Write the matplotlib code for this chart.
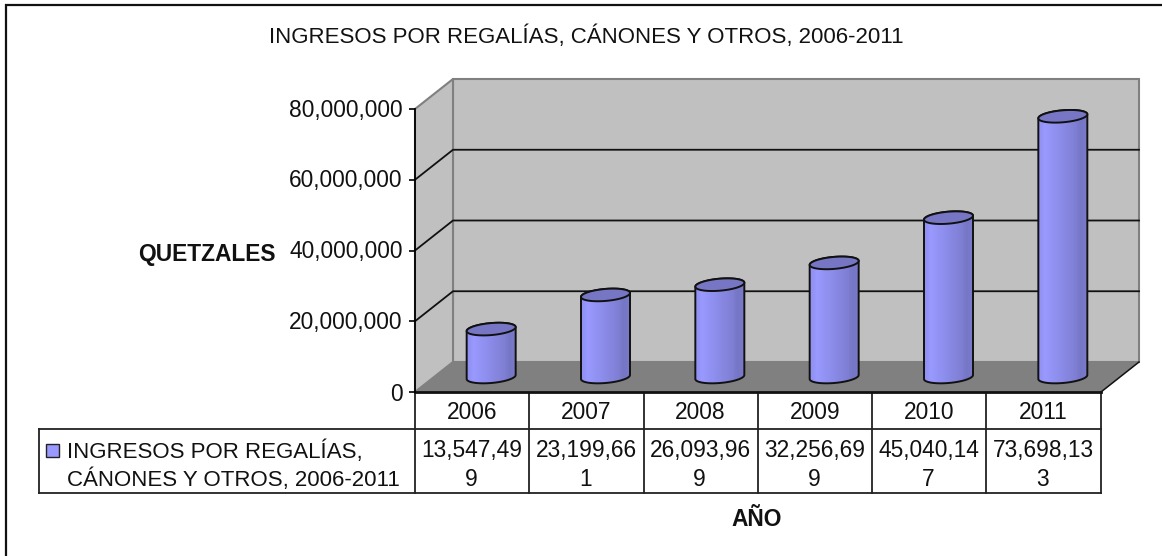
import numpy as np
import matplotlib
matplotlib.use("Agg")
import matplotlib.pyplot as plt
from matplotlib.colors import LinearSegmentedColormap
from matplotlib.patches import Polygon, Rectangle
from matplotlib.ticker import FuncFormatter
from matplotlib.transforms import ScaledTranslation

plt.rcParams['font.family'] = ['Liberation Sans', 'DejaVu Sans']

# data
years = ["2006", "2007", "2008", "2009", "2010", "2011"]
ingresos = [13547499, 23199661, 26093969, 32256699, 45040147, 73698133]
y_ticks = [0, 20000000, 40000000, 60000000, 80000000]
title = "INGRESOS POR REGALÍAS, CÁNONES Y OTROS, 2006-2011"
serie = "INGRESOS POR REGALÍAS,\nCÁNONES Y OTROS, 2006-2011"

W, H = 1162, 556
FS = 16.4
fig = plt.figure(figsize=(W / 100, H / 100), dpi=100)

# overlay in pixel coords: frame, table, texts
bg = fig.add_axes([0, 0, 1, 1], zorder=0)
bg.set_xlim(0, W)
bg.set_ylim(H, 0)
bg.axis("off")
bg.plot([6, 6, W], [H, 5, 5], color="#111111", lw=1.6, solid_joinstyle="miter")

bg.text(586, 37, title, ha="center", va="center", fontsize=16, color="#111111")
bg.text(276, 255, "QUETZALES", ha="right", va="center", fontsize=FS,
        fontweight="bold", color="#111111")
bg.text(757, 520, "AÑO", ha="center", va="center", fontsize=FS,
        fontweight="bold", color="#111111")

# data table
x0, x1 = 415, 1100.5
col = (x1 - x0) / len(years)
bg.plot([x0, x1, x1], [392, 392, 493], color="#222222", lw=1.3)
bg.plot([39, x1], [429, 429], color="#222222", lw=1.3)
bg.plot([39, x1], [493, 493], color="#222222", lw=1.3)
bg.plot([39, 39], [429, 493], color="#222222", lw=1.3)
for i in range(len(years)):
    xl = x0 + i * col
    bg.plot([xl, xl], [392, 493], color="#222222", lw=1.3)
    s = f"{ingresos[i]:,}"
    bg.text(xl + col / 2, 412.5, years[i], ha="center", va="center",
            fontsize=FS, color="#111111")
    bg.text(xl + col / 2, 451, s[:9], ha="center", va="center",
            fontsize=FS, color="#111111")
    bg.text(xl + col / 2 - 1, 479, s[9:], ha="center", va="center",
            fontsize=FS, color="#111111")
bg.add_patch(Rectangle((46, 444), 13, 13, fc="#9999FF", ec="#222222", lw=1))
line1, line2 = serie.split("\n")
bg.text(67, 452, line1, ha="left", va="center", fontsize=16, color="#111111")
bg.text(67, 480, line2, ha="left", va="center", fontsize=16, color="#111111")

# front plane of the 3d box
ax = fig.add_axes([415 / W, 1 - 392 / H, 686 / W, 283 / H], zorder=1)
ax.patch.set_visible(False)
ymax = y_ticks[-1]
dx = 38 / 686 * len(years)
dy = 30 / 283 * ymax
n = len(years)

# walls and floor
ax.add_patch(Polygon([(dx, dy), (n + dx, dy), (n + dx, ymax + dy), (dx, ymax + dy)],
                     fc="#C0C0C0", ec="#808080", lw=1.5, clip_on=False, zorder=1))
ax.add_patch(Polygon([(0, 0), (dx, dy), (dx, ymax + dy), (0, ymax)],
                     fc="#C0C0C0", ec="#808080", lw=1.5, clip_on=False, zorder=1))
ax.add_patch(Polygon([(0, 0), (n, 0), (n + dx, dy), (dx, dy)],
                     fc="#808080", ec="none", clip_on=False, zorder=1))
ax.plot([n, n + dx], [0, dy], color="#111111", lw=1.1, clip_on=False, zorder=2)
for v in y_ticks[1:-1]:
    ax.plot([0, dx, n + dx], [v, v + dy, v + dy], color="#111111", lw=1.3,
            clip_on=False, zorder=2)
ax.plot([0, n], [0, 0], color="#111111", lw=2, clip_on=False, zorder=2)

# cylinders
grad = LinearSegmentedColormap.from_list("cyl", [
    (0, "#8F8FF0"), (0.14, "#9999FF"), (0.45, "#8C8CEA"), (0.75, "#8080D6"),
    (0.88, "#7676C6"), (1, "#7A7ACC")])
g = np.linspace(0, 1, 128).reshape(1, -1)
hw = 24.5 / 686 * n
b = 6 / 283 * ymax
k = 2 / 283 * ymax
for i, v in enumerate(ingresos):
    cx = i + 0.5 + dx / 2
    base = dy / 2
    top = base + v
    t1 = np.linspace(np.pi, 2 * np.pi, 40)
    t2 = np.linspace(0, np.pi, 40)
    low = np.c_[cx + hw * np.cos(t1), base + b * np.sin(t1) + k * np.cos(t1)]
    up = np.c_[cx + hw * np.cos(t2), top + b * np.sin(t2) + k * np.cos(t2)]
    body = Polygon(np.r_[low, up], closed=True, fc="none", ec="#111111", lw=1.4,
                   clip_on=False, zorder=5)
    ax.add_patch(body)
    im = ax.imshow(g, cmap=grad, aspect="auto", zorder=4, interpolation="bilinear",
                   extent=(cx - hw, cx + hw, base - 2 * b, top + 2 * b))
    im.set_clip_path(body)
    t = np.linspace(0, 2 * np.pi, 80)
    cap = np.c_[cx + hw * np.cos(t), top + b * np.sin(t) + k * np.cos(t)]
    ax.add_patch(Polygon(cap, closed=True, fc="#7676C4", ec="#111111", lw=1.4,
                         clip_on=False, zorder=6))

ax.set_xlim(0, n)
ax.set_ylim(0, ymax)
ax.set_xticks([])
ax.set_yticks(y_ticks)
ax.yaxis.set_major_formatter(FuncFormatter(lambda v, p: f"{int(v):,}"))
ax.tick_params(axis="y", length=4, width=1.2, pad=5, labelsize=FS, labelcolor="#111111")
up_shift = ScaledTranslation(0, 1.5 / 100, fig.dpi_scale_trans)
for lab in ax.get_yticklabels()[1:]:
    lab.set_transform(lab.get_transform() + up_shift)
for s in ["top", "right", "bottom"]:
    ax.spines[s].set_visible(False)
ax.spines["left"].set_linewidth(1.3)
ax.spines["left"].set_zorder(3)

fig.savefig("out.png", dpi=100)
